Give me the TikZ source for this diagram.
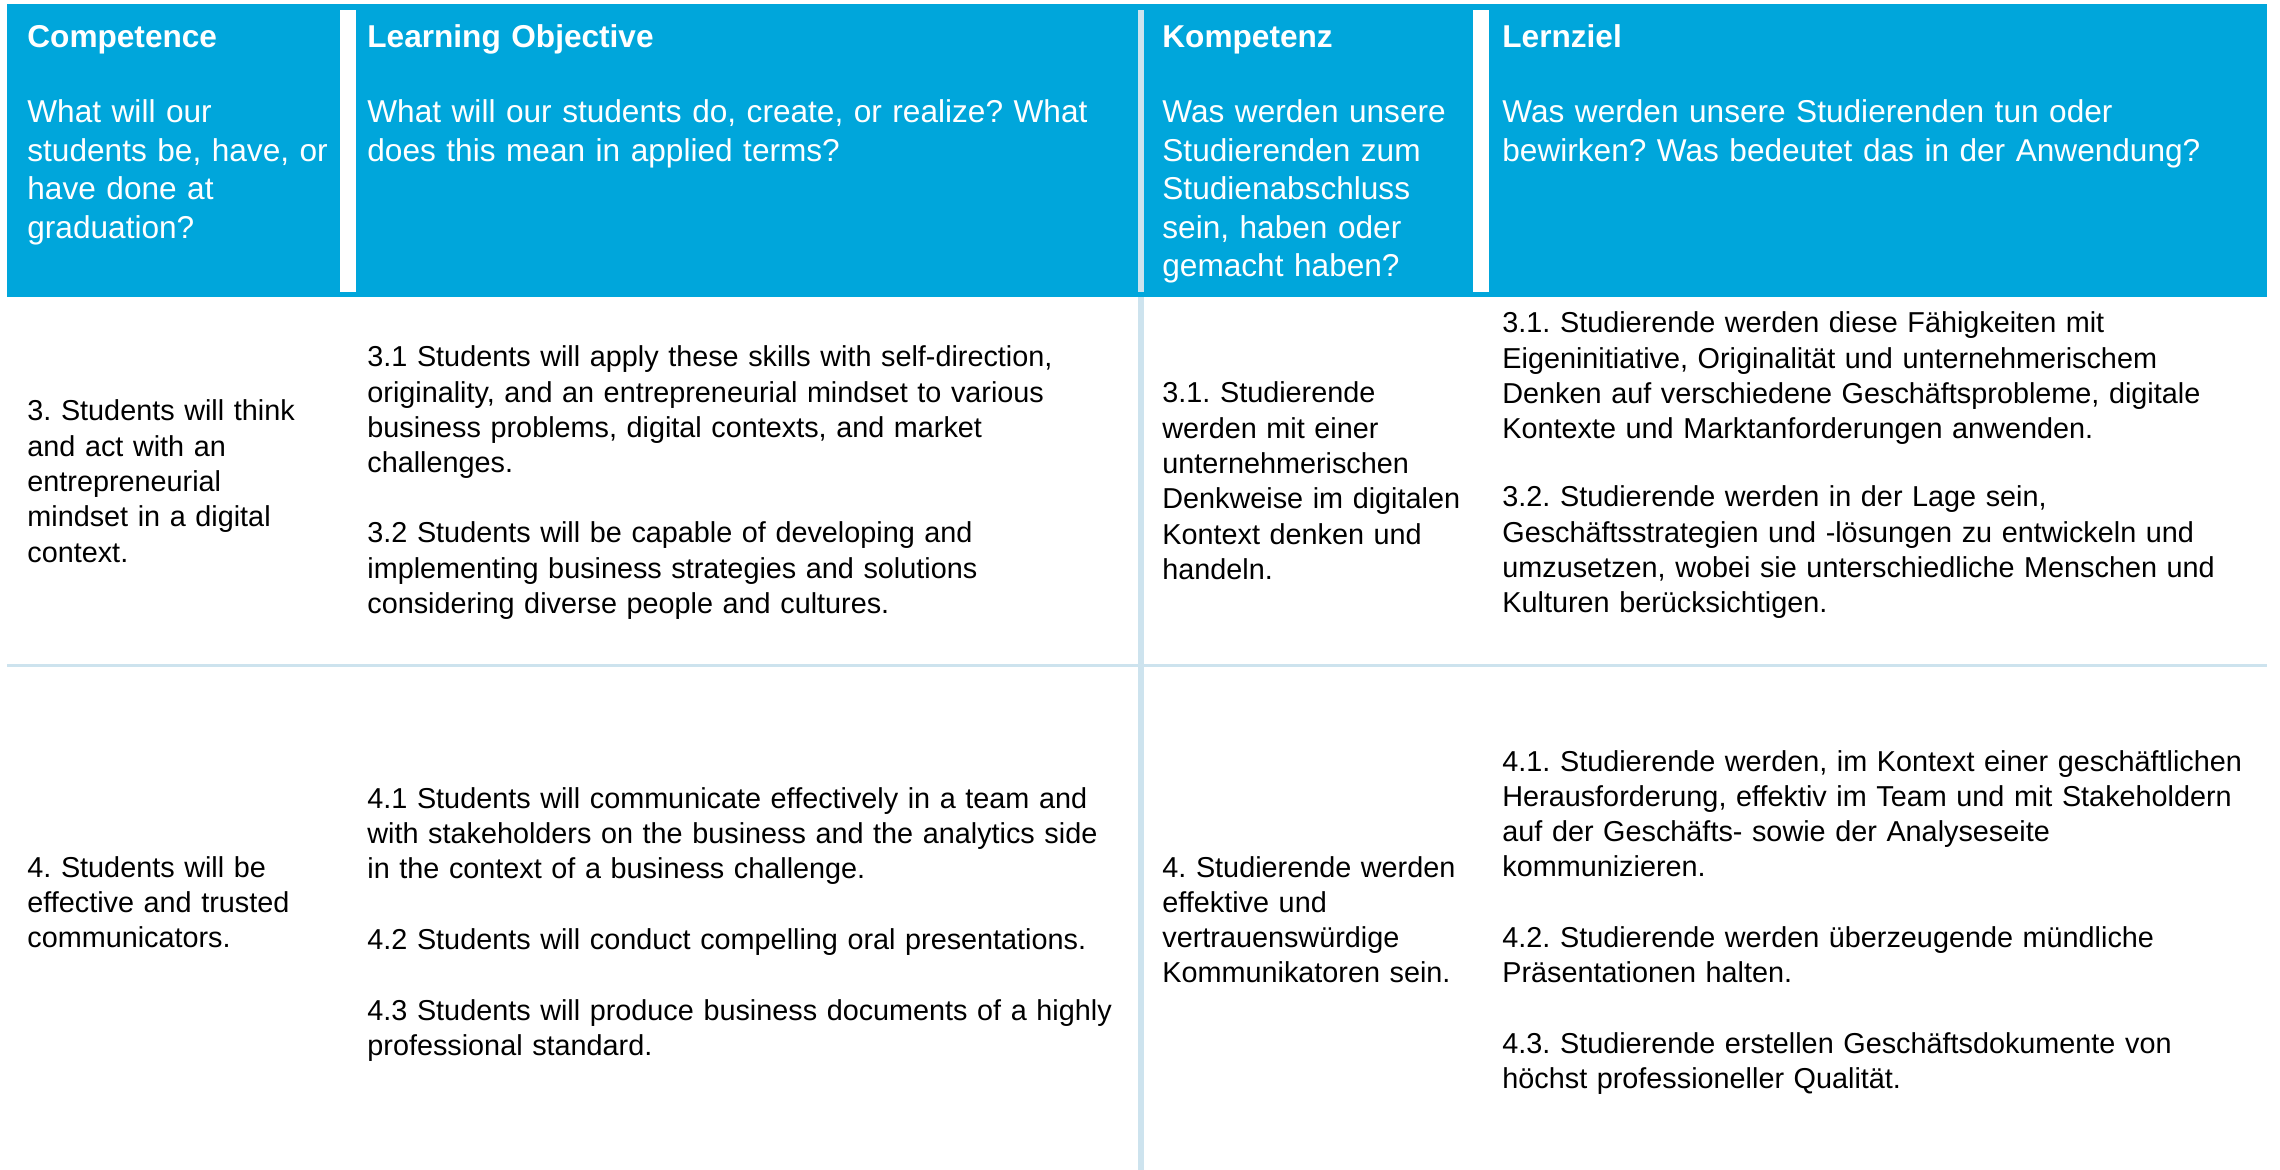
\documentclass[tikz,border=0pt]{standalone}
\usepackage{fontspec}
\setmainfont{Liberation Sans}
\frenchspacing
\definecolor{hdrblue}{HTML}{00A6DB}
\definecolor{rulecol}{HTML}{CDE3EE}
\newcommand\tblbody{\fontsize{14.4pt}{17.65pt}\selectfont\frenchspacing}
\newcommand\tblhead{\fontsize{15.8pt}{19.2pt}\selectfont\frenchspacing}
\tikzset{
  bodytxt/.style={anchor=base west, text width=440pt, align=left, inner sep=0pt, font=\tblbody, text=black},
  headtxt/.style={anchor=base west, text width=440pt, align=left, inner sep=0pt, font=\tblhead, text=white},
  headttl/.style={headtxt, font=\tblhead\bfseries},
  whitebar/.style={fill=white},
  rulebar/.style={fill=rulecol}
}
\begin{document}
\begin{tikzpicture}[x=0.5pt,y=-0.5pt]
\useasboundingbox (0,0) rectangle (2280,1170);
\fill[white] (0,0) rectangle (2280,1170);
% header band
\fill[hdrblue] (7,4) rectangle (2267,297);
\fill[whitebar] (340,10) rectangle (356,292);
\fill[whitebar] (1473,10) rectangle (1489,292);
\fill[rulebar] (1138,10) rectangle (1144,292);
% table rules
\fill[rulebar] (7,664) rectangle (2267,667);
\fill[rulebar] (1138,297) rectangle (1144,1170);
% header titles
\node[headttl] (h1) at (27,48) {Competence};
\node[headttl] (h2) at (367,48) {Learning Objective};
\node[headttl] (h3) at (1162,48) {Kompetenz};
\node[headttl] (h4) at (1502,48) {Lernziel};
% header questions
\node[headtxt] (q1) at (27,123) {What will our\\students be, have, or\\have done at\\graduation?};
\node[headtxt] (q2) at (367,123) {What will our students do, create, or realize? What\\does this mean in applied terms?};
\node[headtxt] (q3) at (1162,123) {Was werden unsere\\Studierenden zum\\Studienabschluss\\sein, haben oder\\gemacht haben?};
\node[headtxt] (q4) at (1502,123) {Was werden unsere Studierenden tun oder\\bewirken? Was bedeutet das in der Anwendung?};
% row 3
\node[bodytxt] (c3) at (27,421) {3. Students will think\\and act with an\\entrepreneurial\\mindset in a digital\\context.};
\node[bodytxt] (o31) at (367,367) {3.1 Students will apply these skills with self-direction,\\originality, and an entrepreneurial mindset to various\\business problems, digital contexts, and market\\challenges.};
\node[bodytxt] (o32) at (367,543) {3.2 Students will be capable of developing and\\implementing business strategies and solutions\\considering diverse people and cultures.};
\node[bodytxt] (k3) at (1162,403) {3.1. Studierende\\werden mit einer\\unternehmerischen\\Denkweise im digitalen\\Kontext denken und\\handeln.};
\node[bodytxt] (l31) at (1502,333) {3.1. Studierende werden diese Fähigkeiten mit\\Eigeninitiative, Originalität und unternehmerischem\\Denken auf verschiedene Geschäftsprobleme, digitale\\Kontexte und Marktanforderungen anwenden.};
\node[bodytxt] (l32) at (1502,507) {3.2. Studierende werden in der Lage sein,\\Geschäftsstrategien und -lösungen zu entwickeln und\\umzusetzen, wobei sie unterschiedliche Menschen und\\Kulturen berücksichtigen.};
% row 4
\node[bodytxt] (c4) at (27,877) {4. Students will be\\effective and trusted\\communicators.};
\node[bodytxt] (o41) at (367,808) {4.1 Students will communicate effectively in a team and\\with stakeholders on the business and the analytics side\\in the context of a business challenge.};
\node[bodytxt] (o42) at (367,949) {4.2 Students will conduct compelling oral presentations.};
\node[bodytxt] (o43) at (367,1020) {4.3 Students will produce business documents of a highly\\professional standard.};
\node[bodytxt] (k4) at (1162,877) {4. Studierende werden\\effektive und\\vertrauenswürdige\\Kommunikatoren sein.};
\node[bodytxt] (l41) at (1502,771) {4.1. Studierende werden, im Kontext einer geschäftlichen\\Herausforderung, effektiv im Team und mit Stakeholdern\\auf der Geschäfts- sowie der Analyseseite\\kommunizieren.};
\node[bodytxt] (l42) at (1502,947) {4.2. Studierende werden überzeugende mündliche\\Präsentationen halten.};
\node[bodytxt] (l43) at (1502,1053) {4.3. Studierende erstellen Geschäftsdokumente von\\höchst professioneller Qualität.};
\end{tikzpicture}
\end{document}
